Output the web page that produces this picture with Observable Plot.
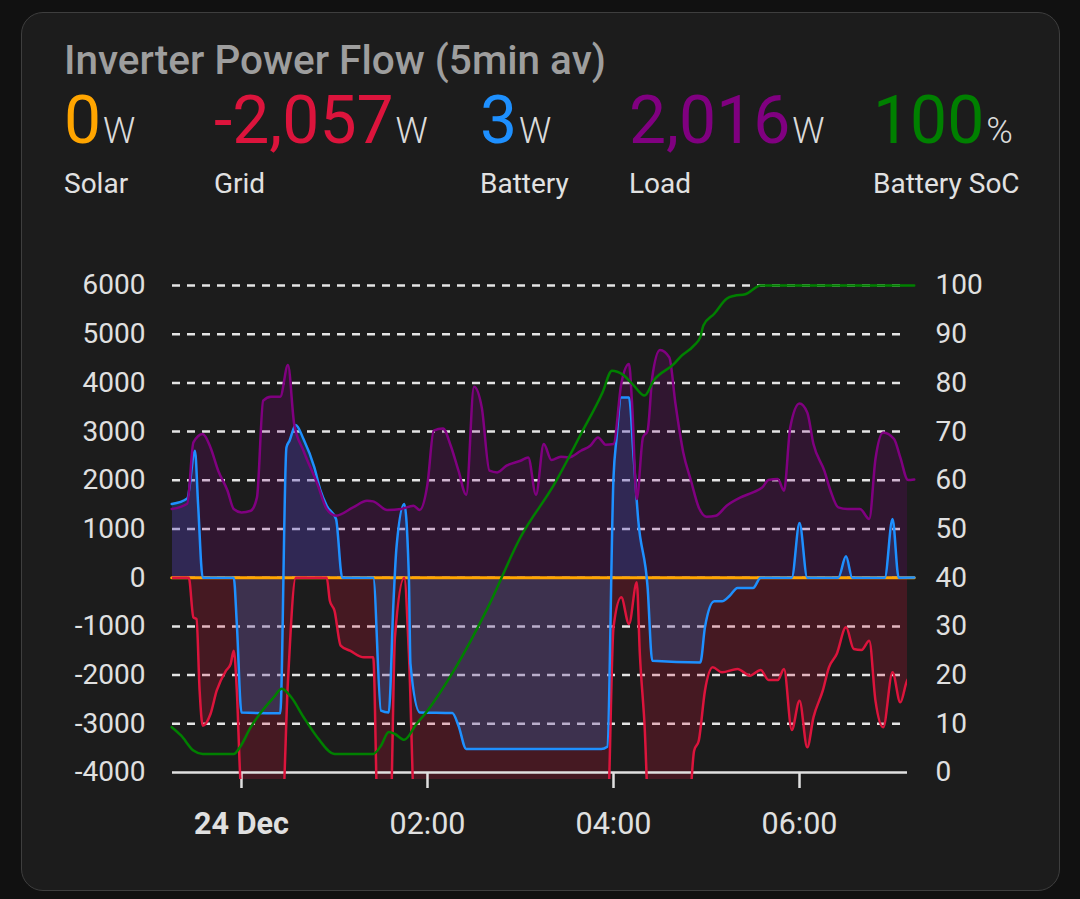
<!DOCTYPE html>
<html><head><meta charset="utf-8">
<script src="https://cdn.jsdelivr.net/npm/d3@7"></script>
<script src="https://cdn.jsdelivr.net/npm/@observablehq/plot@0.6"></script>
<style>
html,body{margin:0;padding:0;background:#111111;width:1080px;height:899px;overflow:hidden;font-family:Roboto,"Noto Sans",sans-serif;}
#card{position:absolute;left:21px;top:12px;width:1039px;height:879px;background:#1c1c1c;border:1.5px solid #3e3e3e;border-radius:22px;box-sizing:border-box;}
.abs{position:absolute;white-space:nowrap;}
#title{left:64px;top:40px;font-size:40.5px;line-height:40.5px;font-weight:500;color:#9e9e9e;}
.stat{top:88px;font-size:66px;line-height:66px;}
.unit{font-size:36px;font-weight:300;color:#dadada;margin-left:2px;}
.lab{top:170px;font-size:28px;line-height:28px;color:#e1e1e1;}
#chart{position:absolute;left:0;top:250px;}
</style></head>
<body>
<div id="card"></div>
<div id="title" class="abs">Inverter Power Flow (5min av)</div>
<div id="header"></div>
<div id="chart"></div>
<script>
// ---- header data ----
const statNames = ["Solar", "Grid", "Battery", "Load", "Battery SoC"];
const statValues = [0, -2057, 3, 2016, 100];
const statUnits = ["W", "W", "W", "W", "%"];
const statColors = ["orange", "crimson", "dodgerblue", "purple", "green"];

// ---- axis ticks ----
const powerTicks = [-4000, -3000, -2000, -1000, 0, 1000, 2000, 3000, 4000, 5000, 6000];
const timeTickLabels = ["00:00", "02:00", "04:00", "06:00"];

// ---- series (time, value); -5000 = below the visible range ----
const loadTimes = ["23:15","23:25","23:29","23:35","23:40","23:45","23:51","23:55","00:00","00:06","00:10","00:14","00:19","00:25","00:30","00:34","00:40","00:49","00:55","01:01","01:12","01:21","01:25","01:34","01:43","01:51","01:55","02:00","02:04","02:10","02:15","02:20","02:25","02:30","02:35","02:40","02:45","02:51","03:00","03:05","03:10","03:15","03:20","03:26","03:31","03:39","03:45","03:50","03:55","04:00","04:05","04:10","04:12","04:15","04:19","04:22","04:25","04:30","04:36","04:40","04:45","04:50","04:55","05:00","05:06","05:13","05:22","05:30","05:36","05:40","05:46","05:50","05:54","06:00","06:05","06:09","06:16","06:20","06:25","06:31","06:39","06:45","06:49","06:54","07:01","07:05","07:10","07:14"];
const loadValues = [1410,1519,2778,2950,2675,2197,1786,1410,1341,1375,1649,3634,3716,3716,4366,3155,2607,1923,1410,1273,1443,1580,1567,1390,1410,1478,1390,1923,3018,3066,2710,2197,1704,3921,3497,2197,2162,2300,2402,2470,1704,2745,2416,2484,2470,2607,2710,2881,2731,2745,3977,4387,3566,1615,2881,3018,4113,4675,4523,3566,2573,1991,1443,1252,1273,1478,1649,1752,1854,2005,2026,1786,3086,3579,3394,2745,2197,1786,1443,1410,1410,1205,2437,2984,2847,2470,2005,2016];

const batteryTimes = ["23:15","23:25","23:30","23:32","23:35","23:55","23:57","00:00","00:25","00:29","00:31","00:35","00:40","00:47","00:51","00:55","01:01","01:05","01:25","01:30","01:35","01:38","01:40","01:45","01:48","01:49","01:55","02:16","02:20","02:25","03:52","03:56","04:00","04:02","04:05","04:10","04:13","04:16","04:22","04:25","04:56","04:59","05:05","05:10","05:15","05:20","05:30","05:35","05:55","06:00","06:05","06:25","06:30","06:34","06:55","07:00","07:04","07:14"];
const batteryValues = [1513,1628,2607,1513,0,0,-951,-2766,-2786,2675,2813,3135,2847,2265,1786,1478,1205,0,0,-2730,-2766,-541,622,1513,0,-1772,-2766,-2780,-3039,-3517,-3517,-3470,2060,2881,3702,3702,2470,1170,-198,-1704,-1739,-1020,-486,-486,-370,-212,-212,0,0,1123,0,0,438,0,0,1205,0,3];

const gridTimes = ["23:15","23:26","23:29","23:31","23:33","23:35","23:40","23:44","23:50","23:53","23:55","23:57","23:59","00:01","00:26","00:30","00:35","00:55","00:57","01:00","01:04","01:10","01:19","01:25","01:28","01:36","01:39","01:45","01:48","01:52","03:56","04:00","04:05","04:10","04:15","04:17","04:20","04:23","04:48","04:52","04:55","04:59","05:04","05:10","05:20","05:28","05:35","05:40","05:46","05:50","05:55","06:00","06:05","06:09","06:15","06:19","06:24","06:30","06:35","06:40","06:45","06:49","06:54","07:00","07:05","07:10","07:14"];
const gridValues = [0,0,-815,-850,-2320,-3039,-2800,-2320,-1909,-1772,-1499,-2320,-3962,-5000,-5000,-2115,0,0,-472,-677,-1396,-1499,-1636,-1636,-5000,-5000,-1226,0,-1567,-5000,-5000,-1020,-404,-951,-96,-1567,-3004,-5000,-5000,-3552,-3347,-2320,-1841,-1944,-1875,-2012,-1896,-2101,-2101,-1875,-3127,-2525,-3484,-2868,-2320,-1841,-1567,-1020,-1464,-1485,-1293,-2525,-3073,-1944,-2560,-2080,-2057];

const solarTimes = ["23:15","07:14"];
const solarValues = [0, 0];

const socTimes = ["23:15","23:21","23:29","23:35","23:55","23:59","00:06","00:12","00:21","00:26","00:32","00:40","00:49","01:00","01:25","01:30","01:35","01:39","01:45","01:53","02:00","02:17","02:39","03:00","03:22","03:39","03:53","03:59","04:06","04:13","04:20","04:26","04:39","04:43","04:52","04:56","04:58","05:05","05:13","05:18","05:25","05:35","07:14"];
const socValues = [9.3,7.6,4.5,3.8,3.8,5.2,9.3,12.1,15.5,17.2,15.5,11.4,7.2,3.8,3.8,5.5,8.3,7.9,6.7,10,12.7,20.9,33.9,48.3,59.3,69.5,78.1,82.5,81.7,79.5,77.4,80.5,83.9,85.3,87.7,89.4,91.8,94.2,97.3,97.9,98.2,100,100];

// ---- helpers ----
function parseT(s) {
  const [h, m, sec] = s.split(":").map(Number);
  return new Date(2023, 11, h >= 12 ? 23 : 24, h, m, sec || 0);
}
function rows(times, values) { return times.map((t, i) => ({t: parseT(t), v: values[i]})); }

// ---- header ----
const statLeft = [64, 214, 480, 629, 873];
const header = document.getElementById("header");
statNames.forEach((name, i) => {
  const s = document.createElement("div");
  s.className = "abs stat";
  s.style.left = statLeft[i] + "px";
  s.innerHTML = `<span style="color:${statColors[i]}">${statValues[i].toLocaleString("en-US")}</span><span class="unit">${statUnits[i]}</span>`;
  header.appendChild(s);
  const l = document.createElement("div");
  l.className = "abs lab";
  l.style.left = statLeft[i] + "px";
  l.textContent = name;
  header.appendChild(l);
});

// ---- chart ----
const load = rows(loadTimes, loadValues);
const battery = rows(batteryTimes, batteryValues);
const grid = rows(gridTimes, gridValues);
const solar = rows(solarTimes, solarValues);
const soc = rows(socTimes, socValues);
const socToPower = p => -4000 + p * 100;
const xTicks = timeTickLabels.map(parseT);
const yMin = -4144;
const curve = "monotone-x";
const fmtHM = d3.timeFormat("%H:%M");
const lw = 2.5;

const chart = Plot.plot({
  width: 1080, height: 600,
  marginLeft: 172, marginRight: 173, marginTop: 35, marginBottom: 71,
  style: {background: "transparent", color: "#e0e0e0", fontFamily: "Roboto, sans-serif", fontSize: "28px", overflow: "visible"},
  x: {type: "time", domain: [parseT("23:15:30"), parseT("07:09:40")], label: null},
  y: {domain: [yMin, 6000], label: null},
  marks: [
    Plot.ruleY(powerTicks.filter(d => d > -4000), {stroke: "#e4e4e4", strokeWidth: 2.5, strokeDasharray: "8,7"}),
    Plot.areaY(grid, {x: "t", y: "v", fill: "crimson", fillOpacity: 0.22, curve, clip: true}),
    Plot.areaY(battery, {x: "t", y: "v", fill: "dodgerblue", fillOpacity: 0.2, curve, clip: true}),
    Plot.areaY(load, {x: "t", y: "v", fill: "purple", fillOpacity: 0.2, curve, clip: true}),
    Plot.ruleY([-4000], {stroke: "#e0e0e0", strokeWidth: 2.5}),
    Plot.ruleX(xTicks, {y1: -4000, y2: yMin, stroke: "#e0e0e0", strokeWidth: 2.5}),
    Plot.lineY(solar, {x: "t", y: "v", stroke: "orange", strokeWidth: 3}),
    Plot.lineY(grid, {x: "t", y: "v", stroke: "crimson", strokeWidth: lw, curve, clip: true}),
    Plot.lineY(battery, {x: "t", y: "v", stroke: "dodgerblue", strokeWidth: lw, curve}),
    Plot.lineY(load, {x: "t", y: "v", stroke: "purple", strokeWidth: lw, curve}),
    Plot.lineY(soc, {x: "t", y: d => socToPower(d.v), stroke: "green", strokeWidth: lw, curve}),
    Plot.axisY(powerTicks, {anchor: "left", tickSize: 0, tickPadding: 27, label: null, tickFormat: d => String(d)}),
    Plot.axisY(powerTicks, {anchor: "right", tickSize: 0, tickPadding: 28, label: null, tickFormat: d => String((d + 4000) / 100)}),
    Plot.axisX(xTicks, {anchor: "bottom", tickSize: 9, tickPadding: 24, strokeWidth: 2.5, label: null, fontSize: 30.5,
      tickFormat: d => d.getHours() === 0 ? d3.timeFormat("%-d %b")(d) : fmtHM(d)})
  ]
});
d3.select(chart).selectAll("text").filter(function() { return this.textContent === "24 Dec"; }).attr("font-weight", "bold");
document.getElementById("chart").appendChild(chart);
</script>
</body></html>
